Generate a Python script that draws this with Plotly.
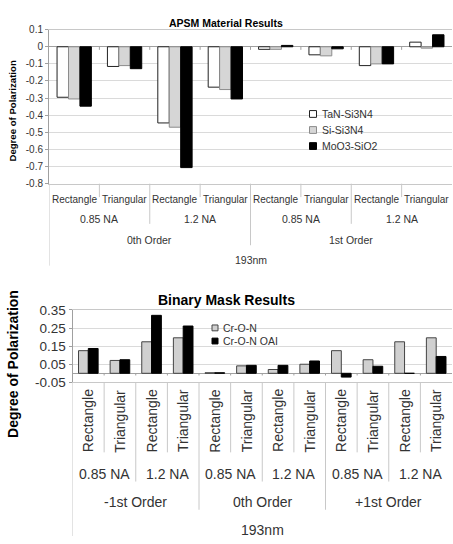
import plotly.graph_objects as go

W, H = 453, 544

# ---- data ----------------------------------------------------------------
shape_labels = ["Rectangle", "Triangular"]
na_labels = ["0.85 NA", "1.2 NA"]
wavelength = "193nm"

# APSM material results (0th / 1st order)
apsm_orders = ["0th Order", "1st Order"]
apsm_series = ["TaN-Si3N4", "Si-Si3N4", "MoO3-SiO2"]
tan_si3n4 = [-0.295, -0.115, -0.445, -0.236, -0.015, -0.047, -0.110, 0.027]
si_si3n4 = [-0.305, -0.110, -0.470, -0.250, -0.015, -0.053, -0.100, -0.008]
moo3_sio2 = [-0.347, -0.128, -0.706, -0.305, 0.008, -0.012, -0.100, 0.070]
apsm_ticks = [0.1, 0, -0.1, -0.2, -0.3, -0.4, -0.5, -0.6, -0.7, -0.8]
apsm_ticktext = ["0.1", "0", "-0.1", "-0.2", "-0.3", "-0.4", "-0.5", "-0.6", "-0.7", "-0.8"]

# Binary mask results (-1st / 0th / +1st order)
bin_orders = ["-1st Order", "0th Order", "+1st Order"]
bin_series = ["Cr-O-N", "Cr-O-N OAI"]
cr_o_n = [0.125, 0.071, 0.174, 0.196, 0.003, 0.041, 0.021, 0.050, 0.125, 0.075, 0.174, 0.196]
cr_o_n_oai = [0.137, 0.075, 0.320, 0.261, 0.003, 0.044, 0.044, 0.068, -0.021, 0.039, 0.0, 0.093]
bin_ticks = [0.35, 0.25, 0.15, 0.05, -0.05]
bin_ticktext = ["0.35", "0.25", "0.15", "0.05", "-0.05"]

# ---- helpers -------------------------------------------------------------
def px(x):
    return x / W

def py(y):
    return 1 - y / H

FONT = "Arial, Liberation Sans, sans-serif"
TXT = "#333333"
GRID = "#dadada"
AXIS = "#a0a0a0"
SEP = "#c8c8c8"

fig = go.Figure()

# ---- top chart bars ------------------------------------------------------
n_top = len(tan_si3n4)
x_top = list(range(n_top))
top_fills = ["#ffffff", "#d6d6d6", "#000000"]
top_edges = ["#222222", "#8c8c8c", "#000000"]
top_w = 0.227
for k, (name, vals) in enumerate(zip(apsm_series, [tan_si3n4, si_si3n4, moo3_sio2])):
    fig.add_trace(go.Bar(
        x=x_top, y=vals, name=name, xaxis="x", yaxis="y",
        width=top_w, offset=-0.34 + k * top_w,
        marker=dict(color=top_fills[k], line=dict(color=top_edges[k], width=1)),
        showlegend=False,
    ))

# ---- bottom chart bars ---------------------------------------------------
n_bot = len(cr_o_n)
x_bot = list(range(n_bot))
bot_fills = ["#d0d0d0", "#000000"]
bot_edges = ["#444444", "#000000"]
bot_w = 0.31
for k, (name, vals) in enumerate(zip(bin_series, [cr_o_n, cr_o_n_oai])):
    fig.add_trace(go.Bar(
        x=x_bot, y=vals, name=name, xaxis="x2", yaxis="y2",
        width=bot_w, offset=-bot_w + k * bot_w,
        marker=dict(color=bot_fills[k], line=dict(color=bot_edges[k], width=1)),
        showlegend=False,
    ))

# ---- axes ----------------------------------------------------------------
top_x0, top_x1, top_y0, top_y1 = 49, 452, 181.7, 23.3
bot_x0, bot_x1, bot_y0, bot_y1 = 72.5, 452, 386.0, 311.5

common_x = dict(showticklabels=False, ticks="", showgrid=False, zeroline=False,
                showline=True, mirror=True, linecolor=SEP, linewidth=1, fixedrange=True)
fig.update_layout(
    xaxis=dict(domain=[px(top_x0), px(top_x1)], range=[-0.5, n_top - 0.5],
               anchor="y", **common_x),
    yaxis=dict(domain=[py(top_y0), py(top_y1)], range=[-0.8, 0.1],
               tickvals=apsm_ticks, ticktext=apsm_ticktext,
               tickfont=dict(family=FONT, size=10, color=TXT),
               showgrid=True, gridcolor=GRID, gridwidth=1,
               zeroline=True, zerolinecolor=AXIS, zerolinewidth=1,
               showline=True, linecolor=AXIS, ticks="outside", ticklen=3,
               tickcolor=AXIS, anchor="x"),
    xaxis2=dict(domain=[px(bot_x0), px(bot_x1)], range=[-0.5, n_bot - 0.5],
                anchor="y2", **common_x),
    yaxis2=dict(domain=[py(bot_y0), py(bot_y1)], range=[-0.05, 0.35],
                tickvals=bin_ticks, ticktext=bin_ticktext,
                tickfont=dict(family=FONT, size=13.5, color=TXT),
                showgrid=True, gridcolor=GRID, gridwidth=1,
                zeroline=True, zerolinecolor=AXIS, zerolinewidth=1,
                showline=True, linecolor=AXIS, ticks="outside", ticklen=3,
                tickcolor=AXIS, anchor="x2"),
)

annotations = []
shapes = []

def label(text, x, y, size, xref="paper", bold=False, angle=0, xanchor="center", yanchor="middle"):
    annotations.append(dict(
        text=f"<b>{text}</b>" if bold else text, x=x, y=y, xref=xref, yref="paper",
        showarrow=False, textangle=angle, xanchor=xanchor, yanchor=yanchor,
        font=dict(family=FONT, size=size, color="#000000" if bold else TXT),
    ))

def vline(xref, x, y0, y1):
    shapes.append(dict(type="line", xref=xref, yref="paper", x0=x, x1=x,
                       y0=py(y0), y1=py(y1), line=dict(color=SEP, width=1)))

# ---- titles --------------------------------------------------------------
label("APSM Material Results", px(226), py(16), 10.5, bold=True)
label("Binary Mask Results", px(226), py(301), 14, bold=True)
label("Degree of Polarization", px(13), py(107.5), 9.6, bold=True, angle=-90)
label("Degree of Polarization", px(13), py(367), 14, bold=True, angle=-90)

# ---- top category axis (3 nested levels + wavelength) --------------------
for i in x_top:
    label(shape_labels[i % 2], i, py(197.7), 10, xref="x")
for j in range(n_top // 2):
    label(na_labels[j % 2], 2 * j + 0.5, py(218.5), 10.5, xref="x")
for k, name in enumerate(apsm_orders):
    label(name, 4 * k + 1.5, py(239.5), 10.5, xref="x")
label(wavelength, (n_top - 1) / 2, py(260.5), 10.5, xref="x")

for b in range(1, n_top):
    if b % 4 == 0:
        y_end = 245
    elif b % 2 == 0:
        y_end = 223
    else:
        y_end = 195.5
    vline("x", b - 0.5, top_y0, y_end)
    shapes.append(dict(type="line", xref="x", yref="y", x0=b - 0.5, x1=b - 0.5,
                       y0=0, y1=-0.018, line=dict(color=AXIS, width=1)))
vline("x", -0.5, top_y0, 266)

# ---- bottom category axis ------------------------------------------------
for i in x_bot:
    label(shape_labels[i % 2], i, py(460), 14, xref="x2", angle=-90, yanchor="bottom")
for j in range(n_bot // 2):
    label(na_labels[j % 2], 2 * j + 0.5, py(480), 14, xref="x2")
for k, name in enumerate(bin_orders):
    label(name, 4 * k + 1.5, py(509), 14, xref="x2")
label(wavelength, (n_bot - 1) / 2, py(538), 14, xref="x2")

for b in range(1, n_bot):
    if b % 4 == 0:
        y_end = 517
    elif b % 2 == 0:
        y_end = 488
    else:
        y_end = 458
    vline("x2", b - 0.5, bot_y0, y_end)
    shapes.append(dict(type="line", xref="x2", yref="y2", x0=b - 0.5, x1=b - 0.5,
                       y0=0, y1=-0.012, line=dict(color=AXIS, width=1)))
vline("x2", -0.5, bot_y0, 544)

# ---- legends (drawn boxes over the gridlines) ----------------------------
def legend(names, fills, edges, x_sq, y_rows, sq, size, box):
    shapes.append(dict(type="rect", xref="paper", yref="paper", layer="between",
                       x0=px(box[0]), x1=px(box[1]), y0=py(box[3]), y1=py(box[2]),
                       fillcolor="#ffffff", line=dict(width=0)))
    for name, fill, edge, yr in zip(names, fills, edges, y_rows):
        h = sq / 2
        shapes.append(dict(type="rect", xref="paper", yref="paper", layer="above",
                           x0=px(x_sq - h), x1=px(x_sq + h), y0=py(yr + h), y1=py(yr - h),
                           fillcolor=fill, line=dict(color=edge, width=1)))
        label(name, px(x_sq + h + 3), py(yr), size, xanchor="left")

legend(apsm_series, top_fills, top_edges, 313, [110, 126.5, 143], 7, 10.5, (305, 381, 101, 152))
legend(bin_series, bot_fills, bot_edges, 215, [330, 343.5], 6, 10.5, (210, 282, 323, 350))

fig.update_layout(
    width=W, height=H, margin=dict(l=0, r=0, t=0, b=0),
    paper_bgcolor="#ffffff", plot_bgcolor="#ffffff",
    barmode="overlay", showlegend=False,
    annotations=annotations, shapes=shapes,
)

fig.write_html("out.html")
